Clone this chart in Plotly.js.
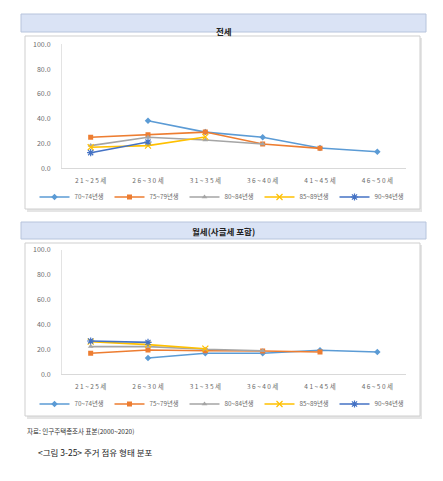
<!DOCTYPE html>
<html>
<head>
<meta charset="utf-8">
<script src="https://cdn.plot.ly/plotly-3.0.1.min.js"></script>
<style>html,body{margin:0;padding:0;background:#fff;}#chart{width:443px;height:481px;}</style>
</head>
<body>
<div id="chart"></div>
<script>
// ---- data ----
const categories = ['21~25세', '26~30세', '31~35세', '36~40세', '41~45세', '46~50세'];
const seriesNames = ['70~74년생', '75~79년생', '80~84년생', '85~89년생', '90~94년생'];
const jeonse_70_74 = [null, 38.4, 29.2, 25.0, 16.4, 13.4];
const jeonse_75_79 = [25.0, 27.0, 29.2, 19.6, 16.1, null];
const jeonse_80_84 = [18.3, 25.0, 22.8, 19.6, null, null];
const jeonse_85_89 = [17.0, 18.3, 25.3, null, null, null];
const jeonse_90_94 = [12.6, 21.2, null, null, null, null];
const wolse_70_74 = [null, 13.1, 16.9, 16.9, 19.3, 17.9];
const wolse_75_79 = [16.9, 19.6, 19.0, 18.8, 17.9, null];
const wolse_80_84 = [22.3, 22.3, 20.1, 19.0, null, null];
const wolse_85_89 = [26.3, 23.9, 20.6, null, null, null];
const wolse_90_94 = [26.8, 25.7, null, null, null, null];
const yTickVals = [0, 20, 40, 60, 80, 100];
const panelTitles = ['전세', '월세(사글세 포함)'];
const sourceText = '자료: 인구주택총조사 표본(2000~2020)';
const captionText = '<그림 3-25> 주거 점유 형태 분포';

// ---- styles ----
const colors = ['#5B9BD5', '#ED7D31', '#A5A5A5', '#FFC000', '#4472C4'];
const symbols = ['diamond', 'square', 'triangle-up', 'x-thin-open', 'asterisk-open'];
const W = 443, H = 481;
const px = v => v / W;
const py = v => 1 - v / H;
const FONT = '"Noto Sans CJK KR", "Noto Sans", sans-serif';

const jeonse = [jeonse_70_74, jeonse_75_79, jeonse_80_84, jeonse_85_89, jeonse_90_94];
const wolse = [wolse_70_74, wolse_75_79, wolse_80_84, wolse_85_89, wolse_90_94];

function mk(values, i, xa, ya, leg) {
  const lineSym = symbols[i].indexOf('open') >= 0;
  return {
    type: 'scatter', mode: 'lines+markers',
    x: categories, y: values, name: seriesNames[i],
    xaxis: xa, yaxis: ya, legend: leg,
    line: {color: colors[i], width: 1.6},
    marker: {symbol: symbols[i], size: lineSym ? 6 : 5, color: colors[i],
             line: {color: colors[i], width: lineSym ? 1.2 : 0}},
    connectgaps: false, hoverinfo: 'skip'
  };
}
const traces = [];
jeonse.forEach((v, i) => traces.push(mk(v, i, 'x', 'y', 'legend')));
wolse.forEach((v, i) => traces.push(mk(v, i, 'x2', 'y2', 'legend2')));

const ticktext = categories.map(c => c.split('').join(' '));
function xax(anchor) {
  return {
    domain: [px(62), px(406)], anchor: anchor, type: 'category',
    range: [-0.5, 5.5], tickvals: categories, ticktext: ticktext,
    showgrid: false, zeroline: false, showline: true, linecolor: '#d9d9d9', linewidth: 1,
    ticks: '', ticklabelstandoff: 6,
    tickfont: {family: FONT, size: 6.5, color: '#6b6b6b'}, fixedrange: true
  };
}
function yax(anchor, top, bottom) {
  return {
    domain: [py(bottom), py(top)], anchor: anchor, range: [0, 100],
    tickvals: yTickVals, tickformat: '.1f',
    showgrid: false, zeroline: false, showline: true, linecolor: '#e3e3e3', linewidth: 1,
    ticks: '', ticklabelstandoff: 9,
    tickfont: {family: FONT, size: 7, color: '#6b6b6b'}, fixedrange: true
  };
}

function box(x0, y0, x1, y1, fill, line) {
  return {type: 'rect', xref: 'paper', yref: 'paper', layer: 'below',
          x0: px(x0), x1: px(x1), y0: py(y1), y1: py(y0),
          fillcolor: fill, line: {color: line, width: line ? 1 : 0}};
}
const shapes = [
  box(21, 14, 426, 32, '#dae3f5', '#b7c4dc'),
  box(27, 38, 422, 212, 'rgba(0,0,0,0.10)', null),
  box(25, 36, 420, 209, '#ffffff', '#cfcfcf'),
  box(21, 222, 426, 239, '#dae3f5', '#b7c4dc'),
  box(27, 245, 422, 419, 'rgba(0,0,0,0.10)', null),
  box(25, 243, 420, 416, '#ffffff', '#cfcfcf')
];

const annotations = [
  {text: '<b>' + panelTitles[0] + '</b>', x: px(223.5), y: py(23), xref: 'paper', yref: 'paper',
   showarrow: false, font: {family: FONT, size: 8.5, color: '#222'}},
  {text: '<b>' + panelTitles[1] + '</b>', x: px(223.5), y: py(230.5), xref: 'paper', yref: 'paper',
   showarrow: false, font: {family: FONT, size: 8.5, color: '#222'}},
  {text: sourceText, x: px(25), y: py(437.5), xref: 'paper', yref: 'paper', xanchor: 'left',
   showarrow: false, font: {family: FONT, size: 6.5, color: '#333'}},
  {text: captionText, x: px(36), y: py(460), xref: 'paper', yref: 'paper', xanchor: 'left',
   showarrow: false, font: {family: FONT, size: 8.5, color: '#222'}}
];

function legendCfg(yc) {
  return {orientation: 'h', x: px(222), xanchor: 'center', y: py(yc), yanchor: 'middle',
          bgcolor: 'rgba(0,0,0,0)', itemwidth: 30, entrywidth: 30, entrywidthmode: 'pixels',
          tracegroupgap: 0, itemclick: false, itemdoubleclick: false,
          font: {family: FONT, size: 6.3, color: '#6b6b6b'}};
}

const layout = {
  width: W, height: H, autosize: false,
  margin: {l: 0, r: 0, t: 0, b: 0, pad: 0},
  paper_bgcolor: '#ffffff', plot_bgcolor: 'rgba(0,0,0,0)',
  font: {family: FONT},
  showlegend: true,
  xaxis: xax('y'), yaxis: yax('x', 44.3, 168.3),
  xaxis2: xax('y2'), yaxis2: yax('x2', 250, 374.3),
  legend: legendCfg(197), legend2: legendCfg(404),
  shapes: shapes, annotations: annotations
};

Plotly.newPlot('chart', traces, layout, {displayModeBar: false, staticPlot: true});
</script>
</body>
</html>
